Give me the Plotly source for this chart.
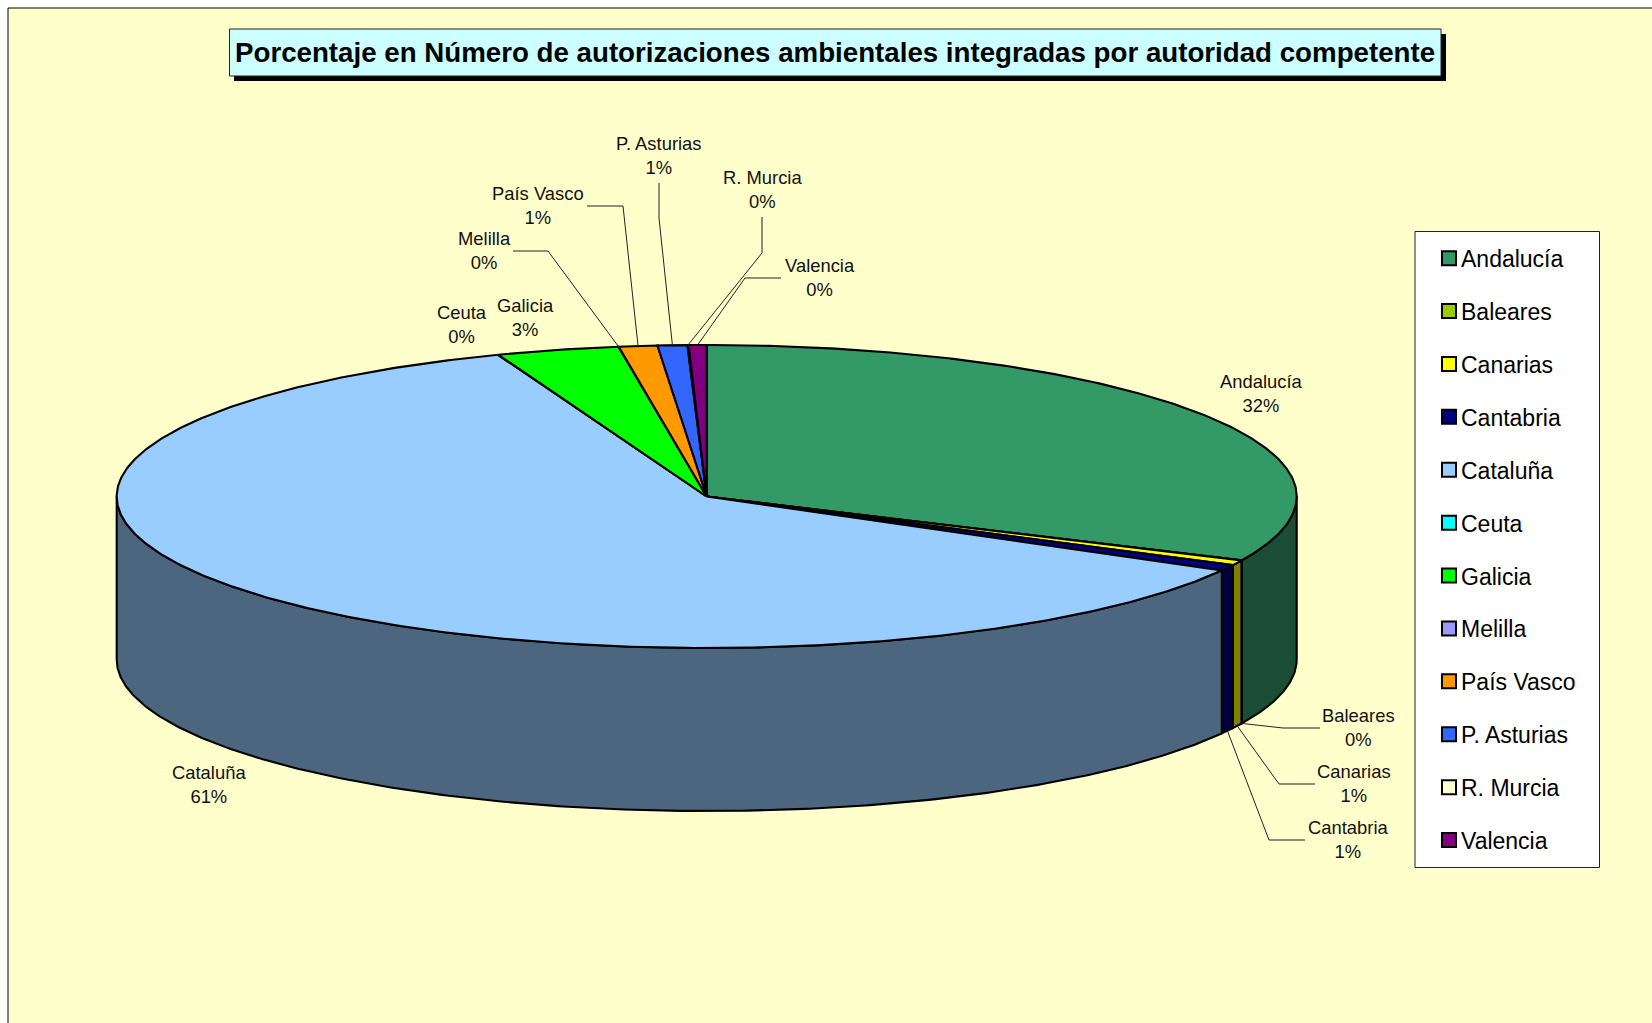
import numpy as np
import plotly.graph_objects as go

# ---- data ----
categories = ["Andalucía", "Baleares", "Canarias", "Cantabria", "Cataluña", "Ceuta",
              "Galicia", "Melilla", "País Vasco", "P. Asturias", "R. Murcia", "Valencia"]
values = [31.9, 0.03, 0.53, 0.63, 61.11, 0.01, 3.35, 0.01, 1.05, 0.81, 0.03, 0.49]
title_text = "Porcentaje en Número de autorizaciones ambientales integradas por autoridad competente"

# ---- styles ----
top_colors = ["#339966", "#99CC00", "#FFFF00", "#000080", "#99CCFF", "#00FFFF",
              "#00FF00", "#9999FF", "#FF9900", "#3366FF", "#FFFFCC", "#800080"]
side_colors = ["#1A4D33", "#4D6600", "#808000", "#000040", "#4D6680", "#008080",
               "#008000", "#4D4D80", "#804D00", "#1A3380", "#808066", "#400040"]
FONT = "Liberation Sans, Arial, sans-serif"
CX, CY, RX, RY, DEPTH = 706.7, 496.5, 590.0, 151.5, 163.0
W, H = 1652, 1023
EDGE = 2.1


def rim(deg, dz=0.0):
    t = np.radians(deg)
    return CX + RX * np.sin(t), CY - RY * np.cos(t) + dz


total = sum(values)
edges = np.concatenate([[0.0], np.cumsum(values) / total * 360.0])
fig = go.Figure()

# side walls (front half only)
for i, name in enumerate(categories):
    s, e = max(edges[i], 90.0), min(edges[i + 1], 270.0)
    if s >= e:
        continue
    a = np.linspace(s, e, max(3, int((e - s) * 2)))
    xt, yt = rim(a)
    xb, yb = rim(a[::-1], DEPTH)
    fig.add_trace(go.Scatter(x=np.r_[xt, xb, xt[0]], y=np.r_[yt, yb, yt[0]], mode="lines",
                             fill="toself", fillcolor=side_colors[i],
                             line=dict(color="black", width=EDGE), showlegend=False, hoverinfo="skip"))

# top faces
for i, name in enumerate(categories):
    a = np.linspace(edges[i], edges[i + 1], max(3, int((edges[i + 1] - edges[i]) * 2)))
    xt, yt = rim(a)
    fig.add_trace(go.Scatter(x=np.r_[CX, xt, CX], y=np.r_[CY, yt, CY], mode="lines",
                             fill="toself", fillcolor=top_colors[i],
                             line=dict(color="black", width=EDGE), showlegend=False, hoverinfo="skip"))

# leader lines: elbow points, ending on the rim at the slice's middle angle
leaders = {
    "Baleares": ([1320, 1283], [728, 728], DEPTH),
    "Canarias": ([1315, 1279], [784, 784], DEPTH),
    "Cantabria": ([1305, 1269], [840, 840], DEPTH),
    "Melilla": ([513, 548], [251, 251], 0),
    "País Vasco": ([587, 623], [206, 206], 0),
    "P. Asturias": ([659, 659], [183, 218], 0),
    "R. Murcia": ([762, 762], [217, 253], 0),
    "Valencia": ([781, 745], [278, 278], 0),
}
for name, (lx, ly, dz) in leaders.items():
    i = categories.index(name)
    ex, ey = rim((edges[i] + edges[i + 1]) / 2, dz)
    fig.add_trace(go.Scatter(x=lx + [ex], y=ly + [ey], mode="lines",
                             line=dict(color="#222222", width=1), showlegend=False, hoverinfo="skip"))

# data labels
label_xy = {
    "Andalucía": (1261, 393.5), "Baleares": (1358.5, 727.5), "Canarias": (1354, 783.5),
    "Cantabria": (1348, 839.5), "Cataluña": (209, 784), "Ceuta": (462, 324),
    "Galicia": (525, 317.5), "Melilla": (484, 250.5), "País Vasco": (538, 205),
    "P. Asturias": (659, 155.5), "R. Murcia": (762, 189), "Valencia": (819.5, 277),
}
for name, v in zip(categories, values):
    x, y = label_xy[name]
    fig.add_annotation(x=x, y=y, xref="x", yref="y", text=f"{name}<br>{round(v)}%", showarrow=False,
                       font=dict(family=FONT, size=18.4, color="#111111"), align="center")

# legend entries
for i, name in enumerate(categories):
    fig.add_trace(go.Scatter(x=[None], y=[None], mode="markers", name=name, legendgroup=name,
                             marker=dict(symbol="square", size=14, color=top_colors[i],
                                         line=dict(color="black", width=2)), hoverinfo="skip"))

fig.add_annotation(x=835, y=52.5, xref="x", yref="y", text=f"<b>{title_text}</b>", showarrow=False,
                   font=dict(family=FONT, size=27.7, color="black"))

shapes = [
    dict(type="rect", xref="x", yref="y", x0=8, y0=8, x1=W + 10, y1=H + 10, fillcolor="#FFFFCC",
         line=dict(color="black", width=1), layer="below"),
    dict(type="rect", xref="x", yref="y", x0=234, y0=34, x1=1446, y1=81, fillcolor="black",
         line=dict(width=0), layer="below"),
    dict(type="rect", xref="x", yref="y", x0=229.5, y0=29, x1=1441, y1=76, fillcolor="#CCFFFF",
         line=dict(color="#222222", width=1), layer="below"),
    dict(type="rect", xref="x", yref="y", x0=1415, y0=231.5, x1=1599.5, y1=867.5, fillcolor="white",
         line=dict(color="#222222", width=1), layer="below"),
]

fig.update_layout(
    width=W, height=H, margin=dict(l=0, r=0, t=0, b=0, pad=0),
    paper_bgcolor="white", plot_bgcolor="white", shapes=shapes,
    xaxis=dict(visible=False, range=[0, W], fixedrange=True),
    yaxis=dict(visible=False, range=[H, 0], fixedrange=True),
    legend=dict(x=1421 / W, y=1 - 236.7 / H, xanchor="left", yanchor="top", bgcolor="rgba(0,0,0,0)",
                borderwidth=0, tracegroupgap=20, traceorder="grouped",
                font=dict(family=FONT, size=23, color="black")),
    hovermode=False,
)

# Plotly keeps a wide gutter between legend swatch and text; close it, and drop the page margin.
post = ("document.body.style.margin='0';"
        "document.querySelectorAll('.legendsymbols').forEach(function(g){"
        "g.setAttribute('transform','translate(8,0)');});")
fig.write_html("out.html", config={"displayModeBar": False}, post_script=post)
